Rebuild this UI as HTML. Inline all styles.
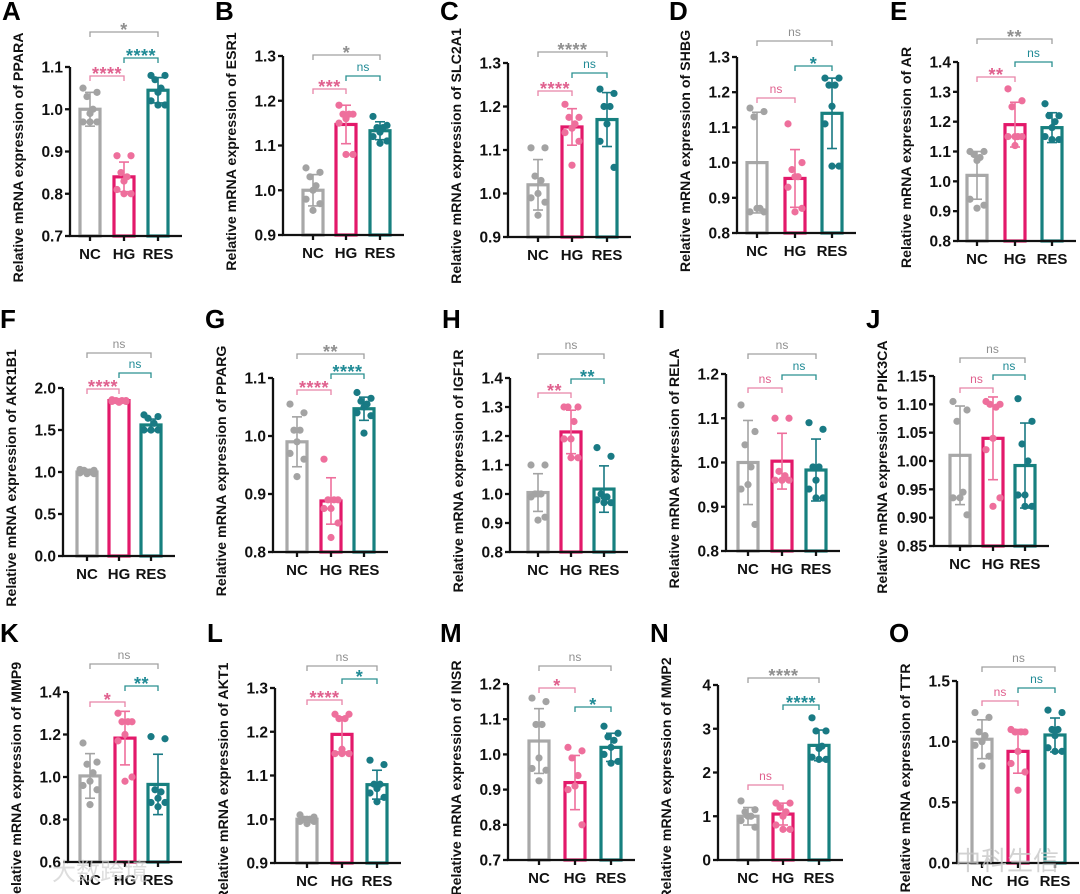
<!DOCTYPE html>
<html><head><meta charset="utf-8"><style>
html,body{margin:0;padding:0;background:#fff;}
svg{display:block;font-family:"Liberation Sans",Arial,sans-serif;}
</style></head><body>
<svg id="fig" width="1080" height="894" viewBox="0 0 1080 894" xmlns="http://www.w3.org/2000/svg"></svg>
<script>
// ---- data ----
const groups = ["NC","HG","RES"];
const panelLetters = ["A","B","C","D","E","F","G","H","I","J","K","L","M","N","O"];
const genes = ["PPARA","ESR1","SLC2A1","SHBG","AR","AKR1B1","PPARG","IGF1R","RELA","PIK3CA","MMP9","AKT1","INSR","MMP2","TTR"];
const yMins = [0.7,0.9,0.9,0.8,0.8,0,0.8,0.8,0.8,0.85,0.6,0.9,0.7,0,0];
const yMaxs = [1.1,1.3,1.3,1.3,1.4,2.0,1.1,1.4,1.2,1.15,1.4,1.3,1.2,4,1.5];
const ySteps = [0.1,0.1,0.1,0.1,0.1,0.5,0.1,0.1,0.1,0.05,0.2,0.1,0.1,1,0.5];
const yDecimals = [1,1,1,1,1,1,1,1,1,2,1,1,1,0,1];
const means = [
 [1.0,0.84,1.045],[1.0,1.147,1.133],[1.02,1.153,1.17],[1.0,0.955,1.14],[1.02,1.19,1.18],
 [1.0,1.85,1.56],[0.99,0.888,1.047],[1.005,1.214,1.017],[1.0,1.003,0.983],[1.01,1.04,0.992],
 [1.005,1.183,0.965],[1.0,1.194,1.079],[1.038,0.92,1.02],[1.0,1.05,2.62],[1.02,0.92,1.055]];
const sds = [
 [0.04,0.035,0.03],[0.035,0.043,0.02],[0.058,0.042,0.062],[0.143,0.082,0.1],[0.08,0.075,0.05],
 [0.02,0.015,0.07],[0.043,0.04,0.02],[0.065,0.075,0.08],[0.095,0.063,0.07],[0.087,0.073,0.075],
 [0.105,0.126,0.142],[0.005,0.04,0.033],[0.092,0.077,0.04],[0.2,0.25,0.35],[0.16,0.18,0.14]];
const points = [
 [[1.05,1.04,1.03,1.0,0.99,0.97,0.97,0.97],[0.89,0.89,0.85,0.84,0.83,0.81,0.80,0.80],[1.08,1.08,1.07,1.05,1.04,1.02,1.01,1.01]],
 [[1.05,1.04,1.03,1.01,1.0,0.98,0.97,0.955],[1.19,1.17,1.17,1.17,1.16,1.15,1.08,1.08],[1.165,1.145,1.14,1.14,1.13,1.12,1.11,1.105]],
 [[1.105,1.105,1.04,1.03,1.0,0.99,0.98,0.95],[1.205,1.175,1.175,1.16,1.15,1.14,1.12,1.065],[1.24,1.23,1.2,1.2,1.16,1.12,1.06]],
 [[1.155,1.145,1.13,0.87,0.87,0.86,0.86],[1.11,1.0,0.98,0.96,0.96,0.93,0.87,0.86],[1.24,1.24,1.22,1.22,1.16,1.11,0.99,0.99]],
 [[1.1,1.1,1.09,1.08,1.07,0.94,0.92,0.91],[1.31,1.27,1.25,1.15,1.15,1.15,1.15,1.12],[1.26,1.22,1.22,1.2,1.18,1.15,1.14,1.14]],
 [[1.03,1.02,1.02,1.0,1.0,0.99,0.98,0.98],[1.86,1.85,1.85,1.85,1.84,1.84,1.84,1.83],[1.68,1.66,1.64,1.58,1.5,1.5,1.5,1.5]],
 [[1.055,1.04,1.01,1.01,0.99,0.97,0.96,0.93],[0.96,0.89,0.89,0.89,0.875,0.875,0.85,0.825],[1.075,1.065,1.06,1.055,1.05,1.04,1.035,1.005]],
 [[1.1,1.1,1.0,1.0,1.0,0.99,0.92,0.91],[1.30,1.30,1.30,1.25,1.19,1.19,1.125,1.125],[1.16,1.13,1.0,0.99,0.99,0.98,0.97,0.97]],
 [[1.13,1.07,1.04,0.99,0.95,0.94,0.86],[1.1,1.1,0.98,0.97,0.96,0.96,0.96,0.96],[1.09,1.075,0.99,0.99,0.96,0.94,0.92,0.92]],
 [[1.105,1.09,1.07,0.945,0.935,0.935,0.905],[1.105,1.1,1.1,1.095,1.04,1.02,0.935,0.92],[1.11,1.07,1.03,1.0,0.94,0.94,0.92,0.92]],
 [[1.16,1.07,1.06,1.02,0.98,0.96,0.94,0.87],[1.3,1.26,1.26,1.26,1.2,1.17,1.0,0.98],[1.19,1.18,0.94,0.93,0.9,0.88,0.88,0.86]],
 [[1.01,1.005,1.0,1.0,1.0,0.995,0.995,0.99],[1.24,1.24,1.23,1.23,1.16,1.15,1.15,1.15],[1.135,1.125,1.08,1.08,1.07,1.06,1.05,1.04]],
 [[1.16,1.15,1.085,1.085,0.99,0.96,0.955,0.925],[1.02,1.01,0.99,0.94,0.91,0.9,0.8],[1.08,1.06,1.05,1.04,1.02,1.0,0.98,0.975]],
 [[1.35,1.15,1.1,1.0,1.0,0.9,0.75],[1.3,1.3,1.2,1.1,1.0,0.8,0.7,0.7],[3.25,2.95,2.95,2.6,2.55,2.35,2.3,2.3]],
 [[1.24,1.2,1.08,1.05,1.0,0.97,0.88,0.8],[1.1,1.08,1.08,1.08,0.92,0.82,0.75,0.6],[1.26,1.24,1.1,1.1,1.05,0.95,0.92,0.92]]];
// significance labels: [NC-RES (gray), HG-RES (teal), NC-HG (pink)]
const sigLabels = [
 ["*","****","****"],["*","ns","***"],["****","ns","****"],["ns","*","ns"],["**","ns","**"],
 ["ns","ns","****"],["**","****","****"],["ns","**","**"],["ns","ns","ns"],["ns","ns","ns"],
 ["ns","**","*"],["ns","*","****"],["ns","*","*"],["****","****","ns"],["ns","ns","ns"]];
</script>
<script>
// ---- layout (pixels) ----
const L = [
 {ax:70,top:67,bot:236,bx:[90,124,158],br:[32,58,76]},
 {ax:283,top:56,bot:235,bx:[313,346,380],br:[55,76,89]},
 {ax:508,top:63,bot:237,bx:[538,572,607],br:[52,73,91]},
 {ax:737,top:57,bot:233,bx:[757,795,832],br:[41,66,98]},
 {ax:958,top:62,bot:241,bx:[977,1015,1052],br:[39,62,77]},
 {ax:63,top:388,bot:556,bx:[87,119,151],br:[353,373,389]},
 {ax:273,top:378,bot:552,bx:[297,331,364],br:[354,374,390]},
 {ax:510,top:378,bot:552,bx:[538,571,604],br:[354,379,393]},
 {ax:726,top:374,bot:551,bx:[748,782,816],br:[354,375,388]},
 {ax:934,top:376,bot:546,bx:[960,993,1025],br:[358,375,388]},
 {ax:68,top:692,bot:862,bx:[90,125,158],br:[664,686,702]},
 {ax:275,top:688,bot:863,bx:[307,342,377],br:[666,679,700]},
 {ax:508,top:684,bot:860,bx:[539,575,611],br:[666,707,688]},
 {ax:718,top:685,bot:860,bx:[748,783,819],br:[678,705,785]},
 {ax:957,top:681,bot:863,bx:[982,1018,1055],br:[667,688,701]}];
const barCol = ["#a8a8a8","#e3196a","#17807f"];
const ptCol = ["#a3a3a3","#ee6f9c","#197a84"];
const brCol = ["#a0a0a0","#2a9090","#e884a8"];
const txtCol = ["#8f8f8f","#1f8a95","#e0608e"];
const jit = [-7,7,-3,3,0,-7,7,0];
const NS="http://www.w3.org/2000/svg";
const svg=document.getElementById('fig');
function mk(tag,attrs,parent,text){const e=document.createElementNS(NS,tag);for(const k in attrs)e.setAttribute(k,attrs[k]);if(text!==undefined)e.textContent=text;(parent||svg).appendChild(e);return e;}

for(let p=0;p<15;p++){
  const l=L[p];
  const g=mk('g',{});
  
  
  const y=v=>l.bot-(v-yMins[p])/(yMaxs[p]-yMins[p])*(l.bot-l.top);
  const rowTop = p<5?20:(p<10?328:642);
  const lt=mk('text',{x:Math.max(0,l.ax-68),y:rowTop,'font-size':26,'font-weight':'bold',fill:'#000'},g,panelLetters[p]);
  
  
  const cy=(l.top+l.bot)/2+6, tx=l.ax-47;
  const yt=mk('text',{x:tx,y:cy,'font-size':14.2,'font-weight':'bold','text-anchor':'middle',transform:`rotate(-90 ${tx} ${cy})`,fill:'#111'},g,'Relative mRNA expression of '+genes[p]);
  
  
  for(let i=0;i<3;i++){
    const m=means[p][i], bx=l.bx[i];
    const b=mk('rect',{x:bx-10,y:y(m),width:20,height:l.bot-y(m),fill:'#fff',stroke:barCol[i],'stroke-width':3.2},g);
    
    
  }
  for(let i=0;i<3;i++){
    points[p][i].forEach((v,k)=>{
      const c=mk('circle',{cx:l.bx[i]+jit[k%8],cy:y(v),r:3.6,fill:ptCol[i]},g);
      
      
    });
  }
  for(let i=0;i<3;i++){
    const m=means[p][i], s=sds[p][i], bx=l.bx[i];
    const eg=mk('g',{stroke:ptCol[i],'stroke-width':1.6,fill:'none'},g);
    
    
    mk('line',{x1:bx,x2:bx,y1:y(m+s),y2:y(Math.max(m-s,yMins[p]))},eg);
    mk('line',{x1:bx-5,x2:bx+5,y1:y(m+s),y2:y(m+s)},eg);
    if(m-s>yMins[p]) mk('line',{x1:bx-5,x2:bx+5,y1:y(m-s),y2:y(m-s)},eg);
  }
  const axg=mk('g',{stroke:'#111','stroke-width':2.3},g);
  
  
  mk('line',{x1:l.ax,x2:l.ax,y1:l.top,y2:l.bot+1},axg);
  mk('line',{x1:l.ax-1,x2:l.bx[2]+24,y1:l.bot,y2:l.bot},axg);
  const nT=Math.round((yMaxs[p]-yMins[p])/ySteps[p]);
  for(let t=0;t<=nT;t++){
    const v=yMins[p]+t*ySteps[p], yy=y(v);
    mk('line',{x1:l.ax-5,x2:l.ax,y1:yy,y2:yy},axg);
    const tl=mk('text',{x:l.ax-7,y:yy+5.5,'font-size':15.5,'font-weight':'bold','text-anchor':'end',fill:'#111'},g,v.toFixed(yDecimals[p]));
    
    
  }
  for(let i=0;i<3;i++){
    mk('line',{x1:l.bx[i],x2:l.bx[i],y1:l.bot,y2:l.bot+5},axg);
    const xl=mk('text',{x:l.bx[i],y:l.bot+23,'font-size':15,'font-weight':'bold','text-anchor':'middle',fill:'#111'},g,groups[i]);
    
    
  }
  const spans=[[0,2],[1,2],[0,1]];
  for(let k=0;k<3;k++){
    const x1=l.bx[spans[k][0]], x2=l.bx[spans[k][1]], by=l.br[k];
    const bg=mk('g',{},g);
    
    
    mk('path',{d:`M${x1} ${by+5}V${by}H${x2}V${by+5}`,fill:'none',stroke:brCol[k],'stroke-width':1.3},bg);
    const lab=sigLabels[p][k];
    if(lab==='ns') mk('text',{x:(x1+x2)/2,y:by-5,'font-size':12,'text-anchor':'middle',fill:txtCol[k]},bg,lab);
    else mk('text',{x:(x1+x2)/2,y:by+4,'font-size':18,'font-weight':'bold','text-anchor':'middle',fill:txtCol[k],'letter-spacing':'0.5'},bg,lab);
  }
}
const wm1=mk('text',{x:955,y:870,'font-size':26,fill:'#c8c8c8','font-family':'"Noto Sans CJK SC",sans-serif',opacity:0.8},svg,'中科生信');


const wm2=mk('text',{x:52,y:880,'font-size':24,fill:'#d0d0d0','font-family':'"Noto Sans CJK SC",sans-serif',opacity:0.7},svg,'大数跨境');


</script>
</body></html>
